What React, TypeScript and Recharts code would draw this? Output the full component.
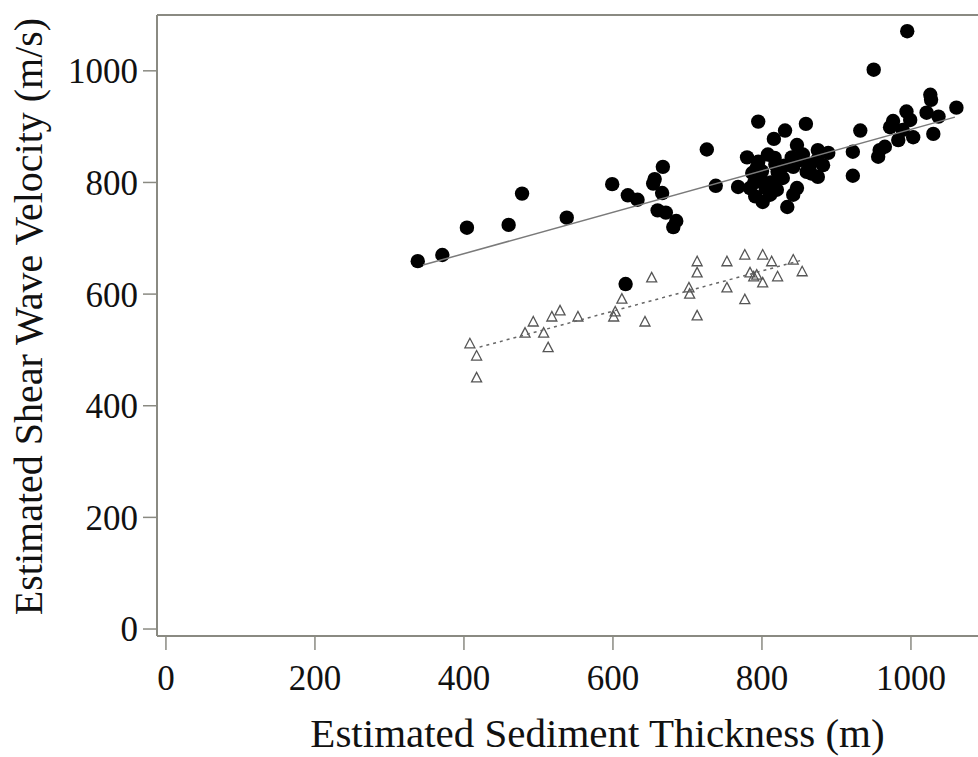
import React from 'react';
import { ScatterChart, Scatter, XAxis, YAxis, ReferenceLine, Label } from 'recharts';

// Group 1 (filled circles): sediment thickness (m) and shear wave velocity (m/s)
const circleThickness = [
  338, 371, 404, 460, 478, 538, 599, 620, 633, 667, 656, 654, 666, 660, 671, 685, 681, 617, 726, 738, 768,
  795, 831, 816, 859, 847, 875, 889, 922, 922, 932,
  795, 808, 817, 793, 787, 801, 821, 842, 851, 864, 874, 882, 875, 860, 828, 847, 842, 791, 801, 811, 820, 834, 784,
  780, 800, 812, 830, 855, 866, 805, 790, 818, 840,
  950, 995, 956, 958, 965, 976, 994, 972, 983, 1003, 1026, 1027, 1021, 1037, 1030, 1061, 999, 989,
];
const circleVelocity = [
  659, 670, 719, 724, 780, 737, 797, 777, 769, 828, 806, 798, 781, 750, 746, 731, 720, 618, 859, 794, 792,
  909, 893, 878, 905, 867, 858, 853, 855, 812, 893,
  837, 850, 844, 826, 817, 801, 819, 828, 840, 831, 840, 831, 810, 819, 808, 790, 778, 775, 765, 778, 787, 756, 790,
  845, 820, 800, 830, 850, 816, 790, 800, 832, 845,
  1002, 1071, 846, 858, 864, 910, 927, 899, 876, 881, 957, 948, 925, 918, 887, 934, 912, 894,
];

// Group 2 (open triangles)
const triThickness = [
  408, 417, 417, 493, 482, 507, 513, 518, 529, 553, 603, 601, 612, 643, 652, 702, 703, 713, 713, 713,
  753, 753, 777, 777, 801, 813, 784, 789, 793, 801, 821, 842, 854,
];
const triVelocity = [
  511, 489, 450, 550, 530, 530, 504, 559, 570, 559, 568, 559, 591, 550, 629, 611, 600, 658, 638, 561,
  658, 611, 670, 590, 670, 658, 638, 631, 634, 620, 631, 661, 640,
];

// Fitted trend lines (end points)
const solidFitThickness = [345, 1059];
const solidFitVelocity = [652, 917];
const dottedFitThickness = [421, 854];
const dottedFitVelocity = [505, 661];

const xTicks = [0, 200, 400, 600, 800, 1000];
const yTicks = [0, 200, 400, 600, 800, 1000];
const xDomain = [-12, 1090];
const yDomain = [-12.5, 1100];

const zip = (xs: number[], ys: number[]) => xs.map((x, i) => ({ x, y: ys[i] }));

const circles = zip(circleThickness, circleVelocity);
const triangles = zip(triThickness, triVelocity);
const solidFit = zip(solidFitThickness, solidFitVelocity);
const dottedFit = zip(dottedFitThickness, dottedFitVelocity);

const AX = '#8a8a82';
const FONT = "'Liberation Serif', 'DejaVu Serif', serif";

const CircleShape = (p: any) => <circle cx={p.cx} cy={p.cy} r={7.2} fill="#000" />;
const TriangleShape = (p: any) => (
  <polygon
    points={`${p.cx},${p.cy - 5.5} ${p.cx - 5},${p.cy + 4} ${p.cx + 5},${p.cy + 4}`}
    fill="none"
    stroke="#555"
    strokeWidth={1.3}
  />
);
const NoShape = () => <g />;

export default function App() {
  return (
    <div style={{ position: 'fixed', left: 0, top: 0, width: 978, height: 757, background: '#fff', overflow: 'hidden' }}>
      <ScatterChart width={978} height={757} margin={{ top: 15, right: 0, bottom: 0, left: 0 }}>
        <XAxis
          type="number"
          dataKey="x"
          domain={xDomain}
          ticks={xTicks}
          allowDataOverflow
          interval={0}
          height={121}
          tickSize={14}
          tickMargin={15}
          axisLine={{ stroke: AX, strokeWidth: 2 }}
          tickLine={{ stroke: AX, strokeWidth: 1.5 }}
          tick={{ fill: '#111', fontSize: 35, fontFamily: FONT }}
        >
          <Label
            content={(props: any) => {
              const vb = props.viewBox;
              return (
                <text x={vb.x + vb.width / 2 + 30} y={747} textAnchor="middle" fill="#111" fontSize={41} fontFamily={FONT}>
                  Estimated Sediment Thickness (m)
                </text>
              );
            }}
          />
        </XAxis>
        <YAxis
          type="number"
          dataKey="y"
          domain={yDomain}
          ticks={yTicks}
          allowDataOverflow
          interval={0}
          width={157}
          tickSize={14}
          tickMargin={5}
          axisLine={{ stroke: AX, strokeWidth: 2 }}
          tickLine={{ stroke: AX, strokeWidth: 1.5 }}
          tick={{ fill: '#111', fontSize: 35, fontFamily: FONT }}
        >
          <Label
            content={(props: any) => {
              const vb = props.viewBox;
              const cy = vb.y + vb.height / 2 - 9;
              return (
                <text transform={`translate(42, ${cy}) rotate(-90)`} textAnchor="middle" fill="#111" fontSize={40} fontFamily={FONT}>
                  Estimated Shear Wave Velocity (m/s)
                </text>
              );
            }}
          />
        </YAxis>
        <ReferenceLine y={yDomain[1]} stroke={AX} strokeWidth={2} />
        <Scatter data={triangles} shape={TriangleShape} isAnimationActive={false} />
        <Scatter
          data={dottedFit}
          shape={NoShape}
          line={{ stroke: '#666', strokeWidth: 1.5, strokeDasharray: '3 4' }}
          isAnimationActive={false}
        />
        <Scatter data={circles} shape={CircleShape} isAnimationActive={false} />
        <Scatter data={solidFit} shape={NoShape} line={{ stroke: '#7a7a7a', strokeWidth: 1.5 }} isAnimationActive={false} />
      </ScatterChart>
    </div>
  );
}
